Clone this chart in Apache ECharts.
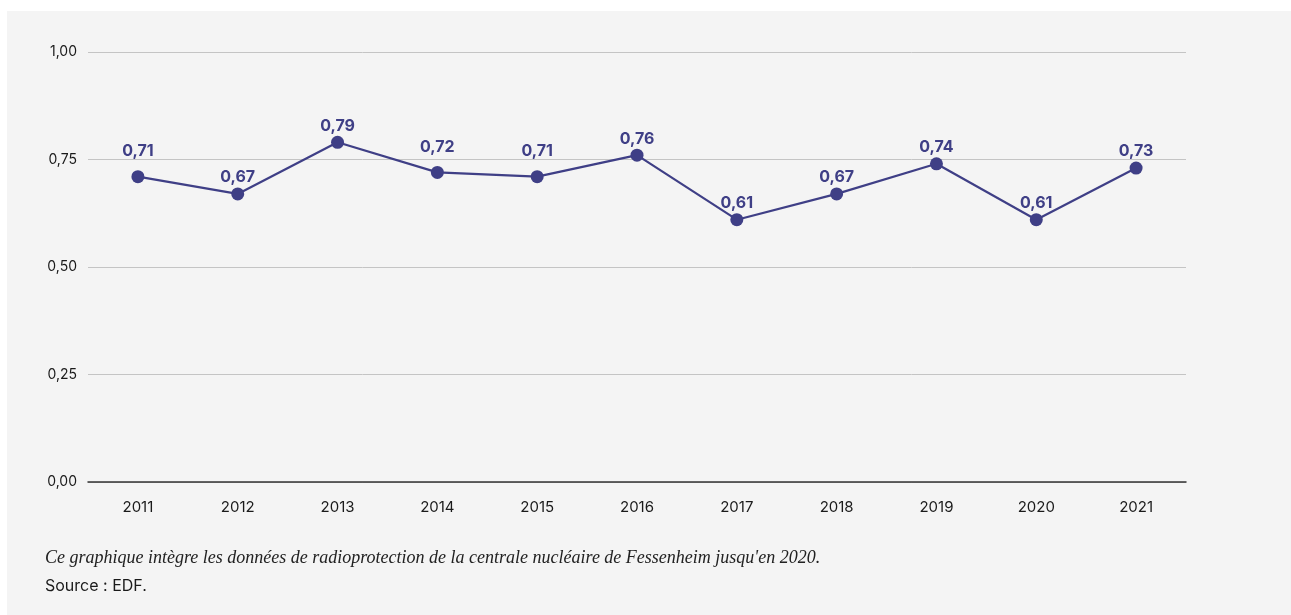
<!DOCTYPE html>
<html>
<head>
<meta charset="utf-8">
<script src="https://cdn.jsdelivr.net/npm/echarts@6/dist/echarts.min.js"></script>
<style>
    html, body { margin: 0; padding: 0; background: #ffffff; }
    #chart {
        position: absolute;
        left: 7px;
        top: 11px;
        width: 1284px;
        height: 604px;
        background: #f4f4f4;
    }
</style>
</head>
<body>
<div id="chart"></div>
<script>
// années
const years = ['2011', '2012', '2013', '2014', '2015', '2016', '2017', '2018', '2019', '2020', '2021']
// valeurs
const values = [0.71, 0.67, 0.79, 0.72, 0.71, 0.76, 0.61, 0.67, 0.74, 0.61, 0.73]
const caption = "Ce graphique intègre les données de radioprotection de la centrale nucléaire de Fessenheim jusqu'en 2020."
const source = 'Source : EDF.'

const lineColor = '#3f3f86'
const fmt = (v) => v.toFixed(2).replace('.', ',')

// les étiquettes qui tomberaient sur la ligne 0,75 sont remontées
const seriesData = values.map((v) => {
    const onGrid = v > 0.7 && v < 0.725
    return {
        value: v,
        label: { distance: onGrid ? 11 : 2 }
    }
})

const chart = echarts.init(document.getElementById('chart'))
const option = {
    backgroundColor: '#f4f4f4',
    animation: false,
    grid: {
        left: 81,
        right: 105,
        top: 41,
        bottom: 133
    },
    xAxis: {
        type: 'category',
        data: years,
        boundaryGap: true,
        axisLine: {
            lineStyle: { color: '#333333', width: 1.5 }
        },
        axisTick: { show: false },
        axisLabel: {
            color: '#1a1a1a',
            fontSize: 15,
            fontFamily: 'Inter',
            margin: 18
        }
    },
    yAxis: {
        type: 'value',
        min: 0,
        max: 1,
        interval: 0.25,
        axisLine: { show: false },
        axisTick: { show: false },
        splitLine: {
            lineStyle: { color: '#c4c4c4', width: 1 }
        },
        axisLabel: {
            color: '#1a1a1a',
            fontSize: 14,
            fontFamily: 'Inter',
            margin: 11,
            formatter: fmt
        }
    },
    series: [{
        type: 'line',
        data: seriesData,
        symbol: 'circle',
        symbolSize: 13,
        itemStyle: { color: lineColor },
        lineStyle: { color: lineColor, width: 2.2 },
        label: {
            show: true,
            position: 'top',
            color: lineColor,
            fontSize: 16,
            fontWeight: 'bold',
            fontFamily: 'Inter',
            formatter: (p) => fmt(p.value)
        }
    }],
    graphic: [{
        type: 'text',
        left: 38,
        top: 538,
        style: {
            text: caption,
            fill: '#222222',
            font: 'italic 18px "Liberation Serif", serif'
        }
    }, {
        type: 'text',
        left: 38,
        top: 567,
        style: {
            text: source,
            fill: '#1a1a1a',
            font: '16px Inter, sans-serif'
        }
    }]
}
chart.setOption(option)
</script>
</body>
</html>
